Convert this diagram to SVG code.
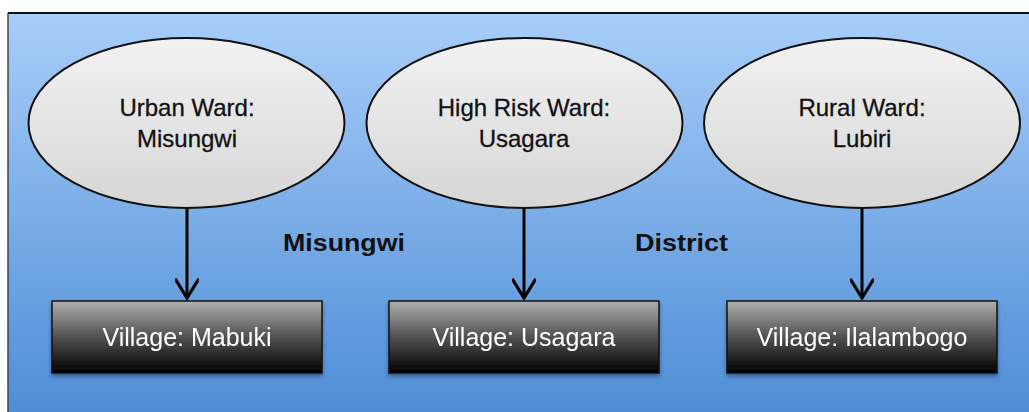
<svg xmlns="http://www.w3.org/2000/svg" width="1029" height="412" viewBox="0 0 1029 412">
  <defs>
    <linearGradient id="panelFill" x1="0" y1="0" x2="0" y2="1">
      <stop offset="0" stop-color="#a8cdf9"/>
      <stop offset="1" stop-color="#4c8cd5"/>
    </linearGradient>
    <linearGradient id="wardFill" x1="0" y1="0" x2="0" y2="1">
      <stop offset="0" stop-color="#f2f2f2"/>
      <stop offset="1" stop-color="#d6d6d6"/>
    </linearGradient>
    <linearGradient id="villageFill" x1="0" y1="0" x2="0" y2="1">
      <stop offset="0" stop-color="#b0b0b0"/>
      <stop offset="0.45" stop-color="#5a5a5a"/>
      <stop offset="1" stop-color="#000000"/>
    </linearGradient>
    <filter id="dropShadow" x="-10%" y="-10%" width="120%" height="130%">
      <feGaussianBlur in="SourceAlpha" stdDeviation="2"/>
      <feOffset dx="0" dy="3"/>
      <feComponentTransfer><feFuncA type="linear" slope="0.35"/></feComponentTransfer>
      <feMerge><feMergeNode/><feMergeNode in="SourceGraphic"/></feMerge>
    </filter>
    <!-- open chevron head, drawn pointing along +x so orient="auto" follows the line -->
    <marker id="openArrow" viewBox="0 0 22 24" refX="20" refY="12" markerWidth="22" markerHeight="24" markerUnits="userSpaceOnUse" orient="auto">
      <path d="M2,1 L20,12 L2,23" fill="none" stroke="#000" stroke-width="3.2" stroke-linecap="round" stroke-linejoin="miter"/>
    </marker>
  </defs>
  <style>
    .ward { fill: url(#wardFill); stroke: #111; stroke-width: 2; }
    .wardText { font-family: "Liberation Sans", Arial, sans-serif; font-size: 24px; fill: #111; stroke: #111; stroke-width: 0.3; text-anchor: middle; }
    .village { fill: url(#villageFill); stroke: #111; stroke-width: 1.5; }
    .villageText { font-family: "Liberation Sans", Arial, sans-serif; font-size: 25px; fill: #fff; text-anchor: middle; }
    .label { font-family: "Liberation Sans", Arial, sans-serif; font-size: 24px; font-weight: bold; fill: #111; }
    .link { stroke: #000; stroke-width: 3; fill: none; }
  </style>

  <rect x="0" y="0" width="1029" height="412" fill="#fff"/>
  <!-- district panel -->
  <rect x="8" y="13" width="1030" height="410" fill="url(#panelFill)"/>
  <line x1="8" y1="13" x2="1029" y2="13" stroke="#111" stroke-width="2"/>
  <line x1="8" y1="13" x2="8" y2="412" stroke="#444" stroke-width="1.5"/>

  <g id="district-label">
    <text class="label" x="283" y="251" textLength="122" lengthAdjust="spacingAndGlyphs">Misungwi</text>
    <text class="label" x="635" y="251" textLength="93" lengthAdjust="spacingAndGlyphs">District</text>
  </g>

  <g id="connectors">
    <line class="link" x1="187" y1="208" x2="187" y2="298" marker-end="url(#openArrow)"/>
    <line class="link" x1="524" y1="208" x2="524" y2="298" marker-end="url(#openArrow)"/>
    <line class="link" x1="862" y1="208" x2="862" y2="298" marker-end="url(#openArrow)"/>
  </g>

  <g id="ward-urban">
    <ellipse class="ward" cx="186.5" cy="123" rx="158" ry="85"/>
    <text class="wardText" x="187" y="116">Urban Ward:</text>
    <text class="wardText" x="187" y="147">Misungwi</text>
  </g>
  <g id="ward-highrisk">
    <ellipse class="ward" cx="524.5" cy="123" rx="158" ry="85"/>
    <text class="wardText" x="524" y="116">High Risk Ward:</text>
    <text class="wardText" x="524" y="147">Usagara</text>
  </g>
  <g id="ward-rural">
    <ellipse class="ward" cx="862" cy="123" rx="158" ry="85"/>
    <text class="wardText" x="862" y="116">Rural Ward:</text>
    <text class="wardText" x="862" y="147">Lubiri</text>
  </g>

  <g id="village-mabuki" filter="url(#dropShadow)">
    <rect class="village" x="52" y="301" width="270" height="72"/>
    <text class="villageText" x="187" y="346">Village: Mabuki</text>
  </g>
  <g id="village-usagara" filter="url(#dropShadow)">
    <rect class="village" x="389" y="301" width="270" height="72"/>
    <text class="villageText" x="524" y="346">Village: Usagara</text>
  </g>
  <g id="village-ilalambogo" filter="url(#dropShadow)">
    <rect class="village" x="727" y="301" width="270" height="72"/>
    <text class="villageText" x="862" y="346">Village: Ilalambogo</text>
  </g>
</svg>
